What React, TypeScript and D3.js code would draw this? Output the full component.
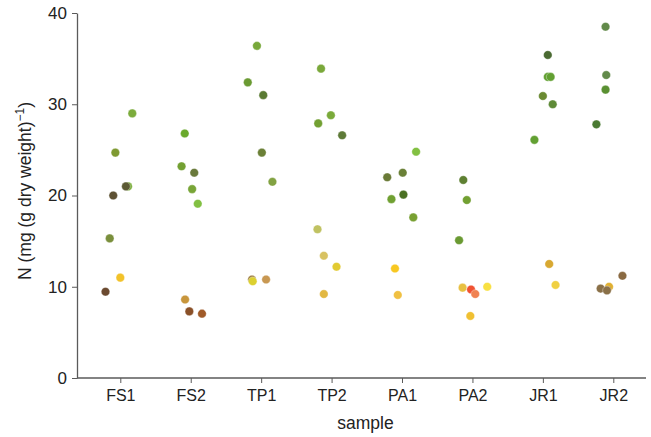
import * as d3 from 'd3';
import { useRef, useEffect } from 'react';

// RENDERING SETUP
const W = 651;
const H = 437;
const PLOT = { LEFT: 77, RIGHT: 646, TOP: 13, BOTTOM: 378 };
const FIRST_X = 120.3;
const LAST_X = 613.3;
const AXIS_COLOR = '#5a5a5a';
const FONT = 'Liberation Sans, Arial, sans-serif';

// DATA
const samples = ['FS1', 'FS2', 'TP1', 'TP2', 'PA1', 'PA2', 'JR1', 'JR2'];
const yTicks = [0, 10, 20, 30, 40];

// one entry per measured point: sample, N value, horizontal jitter (fraction of step), colour
const pointSample = [
  'FS1', 'FS1', 'FS1', 'FS1', 'FS1', 'FS1', 'FS1', 'FS1',
  'FS2', 'FS2', 'FS2', 'FS2', 'FS2', 'FS2', 'FS2', 'FS2',
  'TP1', 'TP1', 'TP1', 'TP1', 'TP1', 'TP1', 'TP1', 'TP1',
  'TP2', 'TP2', 'TP2', 'TP2', 'TP2', 'TP2', 'TP2', 'TP2',
  'PA1', 'PA1', 'PA1', 'PA1', 'PA1', 'PA1', 'PA1', 'PA1',
  'PA2', 'PA2', 'PA2', 'PA2', 'PA2', 'PA2', 'PA2', 'PA2',
  'JR1', 'JR1', 'JR1', 'JR1', 'JR1', 'JR1', 'JR1', 'JR1',
  'JR2', 'JR2', 'JR2', 'JR2', 'JR2', 'JR2', 'JR2', 'JR2',
];
const pointValue = [
  29.0, 24.7, 21.0, 21.0, 20.0, 15.3, 11.0, 9.46,
  26.8, 23.2, 22.5, 20.7, 19.1, 8.6, 7.3, 7.05,
  36.4, 32.4, 31.0, 24.7, 21.5, 10.8, 10.6, 10.8,
  33.9, 28.8, 27.9, 26.6, 16.3, 13.4, 12.2, 9.2,
  24.8, 22.5, 22.0, 20.1, 19.6, 17.6, 12.0, 9.1,
  21.7, 19.5, 15.1, 9.9, 9.7, 9.2, 10.0, 6.8,
  35.4, 33.0, 33.0, 30.9, 30.0, 26.1, 12.5, 10.2,
  38.5, 33.2, 31.6, 27.8, 11.2, 10.0, 9.8, 9.6,
];
const pointJitter = [
  0.17, -0.07, 0.11, 0.08, -0.10, -0.15, 0.0, -0.21,
  -0.085, -0.13, 0.05, 0.02, 0.10, -0.08, -0.02, 0.16,
  -0.06, -0.19, 0.03, 0.01, 0.16, -0.13, -0.12, 0.07,
  -0.15, -0.01, -0.19, 0.15, -0.20, -0.11, 0.07, -0.11,
  0.20, 0.01, -0.21, 0.02, -0.15, 0.16, -0.10, -0.06,
  -0.13, -0.08, -0.19, -0.14, -0.02, 0.04, 0.21, -0.03,
  0.07, 0.07, 0.11, 0.0, 0.14, -0.12, 0.09, 0.18,
  -0.11, -0.10, -0.11, -0.24, 0.13, -0.06, -0.18, -0.09,
];
const pointColor = [
  '#7cac3c', '#7f9a32', '#7aae3a', '#5c5a34', '#5e5234', '#7a8f3c', '#f2c22a', '#6b4a30',
  '#6aaa2c', '#73a032', '#6a7a3c', '#78a537', '#82c042', '#c8963c', '#8a5028', '#a05a28',
  '#78a83a', '#6a9a32', '#5a7a32', '#6b8037', '#82a242', '#a08042', '#dcd030', '#c89852',
  '#7aa83a', '#7aaa3a', '#72a032', '#5e7a37', '#c0c262', '#d8c262', '#e2ca32', '#e2b842',
  '#82c042', '#6a8037', '#6a7a37', '#4a7022', '#70a032', '#78a032', '#f8c822', '#f0c042',
  '#5e8032', '#72a032', '#6a9a32', '#e8c042', '#f05232', '#f08252', '#f8e042', '#f0c032',
  '#4a6a32', '#62a032', '#62a032', '#6a8a32', '#5e8a37', '#62a032', '#d8a832', '#f0d042',
  '#628a4a', '#628a4a', '#5a9032', '#4a7a32', '#8a6a42', '#e0b032', '#8a7048', '#8a7048',
];

const App = () => {
  const xAxisRef = useRef<SVGGElement>(null);
  const yAxisRef = useRef<SVGGElement>(null);

  const x = d3.scalePoint<string>().domain(samples).range([FIRST_X, LAST_X]);
  const y = d3.scaleLinear().domain([0, 40]).range([PLOT.BOTTOM, PLOT.TOP]);
  const step = x.step();

  useEffect(() => {
    const xg = d3.select(xAxisRef.current);
    xg.selectAll('*').remove();
    xg.call(d3.axisBottom(x).tickSize(5).tickSizeOuter(0).tickPadding(7));
    xg.select('.domain').remove();
    xg.append('line')
      .attr('x1', PLOT.LEFT)
      .attr('x2', PLOT.RIGHT)
      .attr('stroke', AXIS_COLOR)
      .attr('stroke-width', 1.3);
    xg.selectAll('.tick line').attr('stroke', AXIS_COLOR);
    xg.selectAll('.tick text')
      .attr('fill', '#222')
      .style('font-family', FONT)
      .style('font-size', '16px');

    const yg = d3.select(yAxisRef.current);
    yg.selectAll('*').remove();
    yg.call(d3.axisLeft(y).tickValues(yTicks).tickSize(5).tickSizeOuter(0).tickPadding(5));
    yg.select('.domain').attr('stroke', AXIS_COLOR).attr('stroke-width', 1.3);
    yg.selectAll('.tick line').attr('stroke', AXIS_COLOR);
    yg.selectAll('.tick text')
      .attr('fill', '#222')
      .style('font-family', FONT)
      .style('font-size', '17px');
  }, []);

  return (
    <svg width={W} height={H} style={{ display: 'block', position: 'absolute', left: 0, top: 0 }}>
      <rect width={W} height={H} fill="#fff" />
      <g ref={xAxisRef} transform={`translate(0, ${PLOT.BOTTOM})`} />
      <g ref={yAxisRef} transform={`translate(${PLOT.LEFT}, 0)`} />
      <g className="points">
        {pointValue.map((v, i) => (
          <circle
            key={i}
            cx={(x(pointSample[i]) ?? 0) + pointJitter[i] * step}
            cy={y(v)}
            r={4.3}
            fill={pointColor[i]}
            stroke="#ffffff"
            strokeOpacity={0.6}
            strokeWidth={0.6}
          />
        ))}
      </g>
      <text
        x={365.5}
        y={429}
        textAnchor="middle"
        fill="#222"
        style={{ fontFamily: FONT, fontSize: '17.5px' }}
      >
        sample
      </text>
      <text
        transform="translate(31, 191) rotate(-90)"
        textAnchor="middle"
        fill="#222"
        style={{ fontFamily: FONT, fontSize: '17.5px' }}
      >
        N (mg (g dry weight)
        <tspan dy={-7} style={{ fontSize: '12px' }}>−1</tspan>
        <tspan dy={7}>)</tspan>
      </text>
    </svg>
  );
};

export default App;
